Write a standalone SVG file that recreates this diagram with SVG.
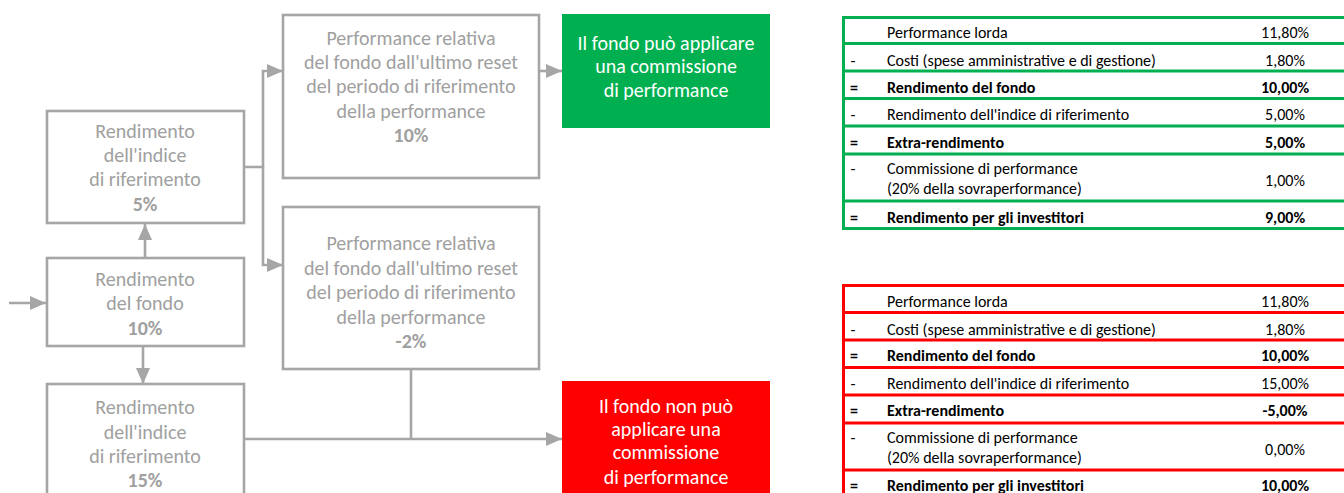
<svg xmlns="http://www.w3.org/2000/svg" width="1344" height="493" viewBox="0 0 1344 493">
<defs>
<style>
.box{fill:#fff;stroke:#a6a6a6;stroke-width:2.6}
.bt{font-family:Carlito,Lato,"Open Sans",sans-serif;font-size:20px;fill:#a0a0a0;text-anchor:middle;dominant-baseline:central}
.b{font-weight:bold}
.wt{font-family:Carlito,Lato,"Open Sans",sans-serif;font-size:20px;fill:#fff;text-anchor:middle;dominant-baseline:central}
.con{fill:none;stroke:#a6a6a6;stroke-width:2.6}
.tt{font-family:Carlito,Lato,"Open Sans",sans-serif;font-size:16px;fill:#000;dominant-baseline:central}
.tv{text-anchor:middle}
.gl{stroke:#00b050;stroke-width:3;fill:none}
.rl{stroke:#ff0000;stroke-width:3;fill:none}
</style>
<marker id="ah" markerUnits="userSpaceOnUse" markerWidth="16" markerHeight="14" refX="16" refY="7" orient="auto">
<path d="M0,0 L16,7 L0,14 z" fill="#a6a6a6"/>
</marker>
</defs>
<rect width="1344" height="493" fill="#fff"/>

<g id="connectors">
<path class="con" d="M9,303 H46" marker-end="url(#ah)"/>
<path class="con" d="M145,258 V224" marker-end="url(#ah)"/>
<path class="con" d="M143,346 V384" marker-end="url(#ah)"/>
<path class="con" d="M244,167 H263 V71 H283" marker-end="url(#ah)"/>
<path class="con" d="M263,167 V265 H283" marker-end="url(#ah)"/>
<path class="con" d="M539,71 H562" marker-end="url(#ah)"/>
<path class="con" d="M411,369 V439"/>
<path class="con" d="M244,439 H562" marker-end="url(#ah)"/>
</g>

<g id="node-indice-5">
<rect class="box" x="47" y="111" width="197" height="112"/>
<text class="bt" x="145" y="131">Rendimento</text>
<text class="bt" x="145" y="155">dell'indice</text>
<text class="bt" x="145" y="179">di riferimento</text>
<text class="bt b" x="145" y="204">5%</text>
</g>

<g id="node-fondo">
<rect class="box" x="47" y="258" width="197" height="88"/>
<text class="bt" x="145" y="279">Rendimento</text>
<text class="bt" x="145" y="303">del fondo</text>
<text class="bt b" x="145" y="328">10%</text>
</g>

<g id="node-indice-15">
<rect class="box" x="47" y="384" width="197" height="120"/>
<text class="bt" x="145" y="407">Rendimento</text>
<text class="bt" x="145" y="432">dell'indice</text>
<text class="bt" x="145" y="456">di riferimento</text>
<text class="bt b" x="145" y="480">15%</text>
</g>

<g id="node-perf-10">
<rect class="box" x="283" y="15" width="256" height="163"/>
<text class="bt" x="411" y="38">Performance relativa</text>
<text class="bt" x="411" y="62">del fondo dall'ultimo reset</text>
<text class="bt" x="411" y="86">del periodo di riferimento</text>
<text class="bt" x="411" y="111">della performance</text>
<text class="bt b" x="411" y="135">10%</text>
</g>

<g id="node-perf-2">
<rect class="box" x="283" y="207" width="256" height="162"/>
<text class="bt" x="411" y="243">Performance relativa</text>
<text class="bt" x="411" y="268">del fondo dall'ultimo reset</text>
<text class="bt" x="411" y="292">del periodo di riferimento</text>
<text class="bt" x="411" y="317">della performance</text>
<text class="bt b" x="411" y="341">-2%</text>
</g>

<g id="node-green">
<rect x="562" y="14" width="208" height="114" fill="#00b050"/>
<text class="wt" x="666" y="43">Il fondo può applicare</text>
<text class="wt" x="666" y="66">una commissione</text>
<text class="wt" x="666" y="90">di performance</text>
</g>

<g id="node-red">
<rect x="562" y="381" width="208" height="120" fill="#ff0000"/>
<text class="wt" x="666" y="406">Il fondo non può</text>
<text class="wt" x="666" y="429">applicare una</text>
<text class="wt" x="666" y="452">commissione</text>
<text class="wt" x="666" y="477">di performance</text>
</g>

<g id="table-green">
<rect class="gl" x="843.5" y="17.5" width="510" height="211"/>
<path class="gl" d="M843.5,43.5 H1350 M843.5,71 H1350 M843.5,98.5 H1350 M843.5,126 H1350 M843.5,154 H1350 M843.5,201 H1350"/>
<text class="tt" x="887" y="32">Performance lorda</text>
<text class="tt tv" x="1285" y="32">11,80%</text>
<text class="tt tv" x="853" y="60">-</text>
<text class="tt" x="887" y="60">Costi (spese amministrative e di gestione)</text>
<text class="tt tv" x="1285" y="60">1,80%</text>
<text class="tt tv b" x="854" y="87">=</text>
<text class="tt b" x="887" y="87">Rendimento del fondo</text>
<text class="tt tv b" x="1285" y="87">10,00%</text>
<text class="tt tv" x="853" y="114">-</text>
<text class="tt" x="887" y="114">Rendimento dell'indice di riferimento</text>
<text class="tt tv" x="1285" y="114">5,00%</text>
<text class="tt tv b" x="854" y="142">=</text>
<text class="tt b" x="887" y="142">Extra-rendimento</text>
<text class="tt tv b" x="1285" y="142">5,00%</text>
<text class="tt tv" x="853" y="168">-</text>
<text class="tt" x="887" y="168">Commissione di performance</text>
<text class="tt" x="887" y="188">(20% della sovraperformance)</text>
<text class="tt tv" x="1285" y="180">1,00%</text>
<text class="tt tv b" x="854" y="217">=</text>
<text class="tt b" x="887" y="217">Rendimento per gli investitori</text>
<text class="tt tv b" x="1285" y="217">9,00%</text>
</g>

<g id="table-red">
<rect class="rl" x="843.5" y="285.5" width="510" height="220"/>
<path class="rl" d="M843.5,312.5 H1350 M843.5,340 H1350 M843.5,367.5 H1350 M843.5,395 H1350 M843.5,423 H1350 M843.5,470 H1350"/>
<text class="tt" x="887" y="301">Performance lorda</text>
<text class="tt tv" x="1285" y="301">11,80%</text>
<text class="tt tv" x="853" y="329">-</text>
<text class="tt" x="887" y="329">Costi (spese amministrative e di gestione)</text>
<text class="tt tv" x="1285" y="329">1,80%</text>
<text class="tt tv b" x="854" y="355">=</text>
<text class="tt b" x="887" y="355">Rendimento del fondo</text>
<text class="tt tv b" x="1285" y="355">10,00%</text>
<text class="tt tv" x="853" y="383">-</text>
<text class="tt" x="887" y="383">Rendimento dell'indice di riferimento</text>
<text class="tt tv" x="1285" y="383">15,00%</text>
<text class="tt tv b" x="854" y="410">=</text>
<text class="tt b" x="887" y="410">Extra-rendimento</text>
<text class="tt tv b" x="1285" y="410">-5,00%</text>
<text class="tt tv" x="853" y="437">-</text>
<text class="tt" x="887" y="437">Commissione di performance</text>
<text class="tt" x="887" y="457">(20% della sovraperformance)</text>
<text class="tt tv" x="1285" y="449">0,00%</text>
<text class="tt tv b" x="854" y="485">=</text>
<text class="tt b" x="887" y="485">Rendimento per gli investitori</text>
<text class="tt tv b" x="1285" y="485">10,00%</text>
</g>
</svg>
